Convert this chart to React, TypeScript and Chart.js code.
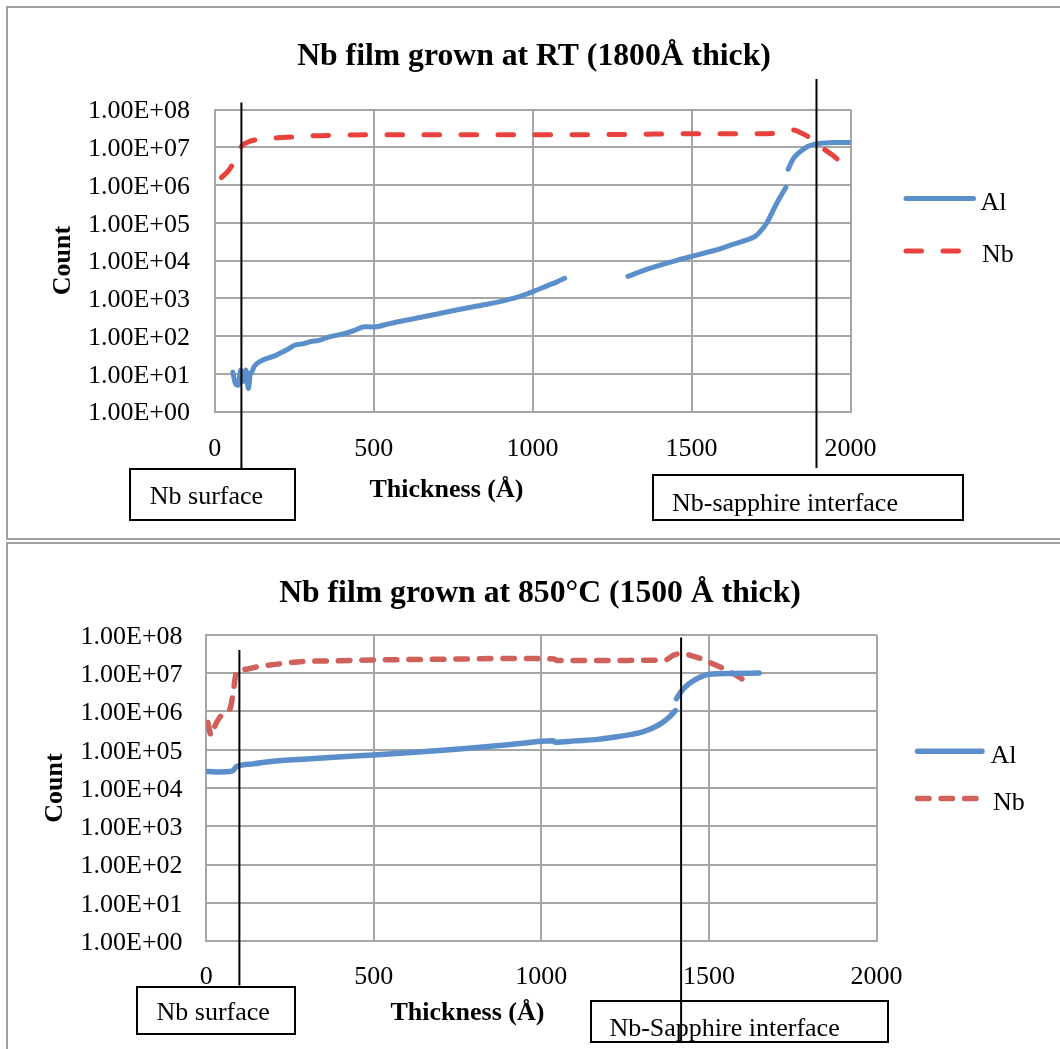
import React, { useEffect, useRef } from 'react';
import { Chart, registerables } from 'chart.js';

Chart.register(...registerables);

const FONT = "'Liberation Serif', 'Times New Roman', serif";
const BLUE = 'rgb(91,143,204)';
const RED_RT = 'rgb(233,66,62)';
const RED_HT = 'rgb(208,96,90)';
const GRID = 'rgb(166,166,166)';

// shared axes
const xTicks = [0, 500, 1000, 1500, 2000];
const xTickLabels = ['0', '500', '1000', '1500', '2000'];
const yTicks = [1, 10, 100, 1e3, 1e4, 1e5, 1e6, 1e7, 1e8];
const yTickLabels = ['1.00E+00', '1.00E+01', '1.00E+02', '1.00E+03', '1.00E+04', '1.00E+05', '1.00E+06', '1.00E+07', '1.00E+08'];
const seriesNames = ['Al', 'Nb'];

// Chart 1: film grown at RT
const rtTitle = 'Nb film grown at RT (1800Å thick)';
const rtAlThickness = [57, 65, 74, 82, 90, 98, 106, 112, 116, 125, 142, 160, 180, 205, 230, 253, 280, 300, 331, 360, 410, 440, 472, 500, 550, 600, 650, 707, 760, 810, 860, 920, 960, 992, 1020, 1045, 1075, 1101,
  1200,
  1300, 1350, 1417, 1460, 1500, 1550, 1590, 1630, 1672, 1700, 1715, 1736, 1768, 1797, 1800, 1804, 1820, 1843, 1865, 1885, 1910, 1949, 2000];
const rtAlCount = [11, 5.6, 5, 12.6, 6.3, 12.6, 4.1, 10, 11, 16, 21, 25, 28, 35, 45, 58, 63, 71, 78, 95, 117, 141, 178, 174, 214, 263, 316, 398, 490, 589, 708, 912, 1120, 1410, 1740, 2140, 2690, 3390,
  null,
  3800, 5500, 8300, 10500, 12900, 16600, 20400, 26900, 34700, 43600, 57500, 97700, 331000, 871000, null, 2630000, 5010000, 7760000, 10500000, 12000000, 12900000, 13500000, 13500000];
const rtNbThickness = [21, 40, 58, 84, 112, 150, 197, 300, 388, 500, 700, 900, 1100, 1300, 1500, 1650, 1760, 1800, 1820, 1840, 1867, 1890, 1914, 1940, 1962];
const rtNbCount = [1580000, 2240000, 3720000, 10500000, 14500000, 16600000, 17800000, 20000000, 20900000, 21400000, 21400000, 21400000, 21400000, 21900000, 22900000, 22900000, 23400000, 27500000, 28800000, 25100000, 19100000, 13500000, 9300000, 6500000, 4600000];
const rtSurfaceAt = 84;
const rtInterfaceAt = 1893;

// Chart 2: film grown at 850°C
const htTitle = 'Nb film grown at 850°C (1500 Å thick)';
const htAlThickness = [5, 40, 71, 80, 91, 140, 192, 300, 393, 498, 600, 696, 800, 900, 966, 1001, 1035, 1042, 1100, 1168, 1220, 1269, 1300, 1329, 1360, 1385, 1400, 1401, 1403, 1420, 1440, 1470, 1501, 1571, 1650];
const htAlCount = [26900, 26300, 26900, 28800, 36300, 42700, 49000, 57500, 64600, 72400, 83200, 95500, 112000, 135000, 155000, 166000, 170000, 157000, 170000, 186000, 214000, 251000, 288000, 355000, 501000, 759000, 1050000, null, 2140000, 3550000, 5250000, 7590000, 9330000, 9770000, 10000000];
const htNbThickness = [5, 15, 25, 40, 55, 71, 79, 91, 120, 151, 200, 293, 400, 495, 700, 898, 1037, 1047, 1200, 1370, 1395, 1420, 1450, 1475, 1501, 1540, 1571, 1600, 1622];
const htNbCount = [513000, 234000, 398000, 692000, 933000, 1150000, 2570000, 10700000, 12600000, 14500000, 16600000, 20000000, 20900000, 21900000, 22900000, 24000000, 23400000, 21400000, 21400000, 21900000, 29500000, 32400000, 28200000, 24000000, 19100000, 13500000, 9800000, 6900000, 5000000];
const htSurfaceAt = 99;
const htInterfaceAt = 1417;

type Spec = {
  w: number; h: number;
  title: string; titlePadTop: number; titlePadBottom: number; layoutLeft: number;
  yWidth: number; yTickPad: number; yTitlePad: number;
  xHeight: number; xTickPad: number; rightWidth: number;
  al: [number[], (number | null)[]]; nb: [number[], (number | null)[]];
  nbColor: string; nbDash: number[]; alWidth: number; nbWidth: number;
  vlines: { at: number; y0: number; y1: number }[];
  legend: { x0: number; x1: number; y: number; tx: number; ty: number }[];
};

const toPoints = (xs: number[], ys: (number | null)[]) => xs.map((x, i) => ({ x, y: ys[i] }));

function overlay(spec: Spec) {
  return {
    id: 'overlay',
    afterDraw(chart: any) {
      const ctx = chart.ctx as CanvasRenderingContext2D;
      const xs = chart.scales.x;
      ctx.save();
      ctx.setLineDash([]);
      ctx.lineCap = 'butt';
      ctx.strokeStyle = '#000';
      ctx.lineWidth = 2;
      spec.vlines.forEach((v) => {
        const px = xs.getPixelForValue(v.at);
        ctx.beginPath();
        ctx.moveTo(px, v.y0);
        ctx.lineTo(px, v.y1);
        ctx.stroke();
      });
      spec.legend.forEach((it, i) => {
        const ds = chart.data.datasets[i];
        ctx.beginPath();
        ctx.setLineDash(ds.borderDash || []);
        ctx.lineCap = 'round';
        ctx.strokeStyle = ds.borderColor;
        ctx.lineWidth = ds.borderWidth;
        ctx.moveTo(it.x0, it.y);
        ctx.lineTo(it.x1, it.y);
        ctx.stroke();
        ctx.setLineDash([]);
        ctx.fillStyle = '#000';
        ctx.font = `26px ${FONT}`;
        ctx.textBaseline = 'middle';
        ctx.textAlign = 'left';
        ctx.fillText(ds.label, it.tx, it.ty);
      });
      ctx.restore();
    },
  };
}

function makeConfig(spec: Spec): any {
  const tickFont = { family: FONT, size: 26 };
  const boldFont = { family: FONT, size: 26, weight: 'bold' };
  return {
    type: 'line',
    data: {
      datasets: [
        {
          label: seriesNames[0], data: toPoints(spec.al[0], spec.al[1]), borderColor: BLUE, backgroundColor: BLUE,
          borderWidth: spec.alWidth, pointRadius: 0, fill: false, cubicInterpolationMode: 'monotone',
          borderCapStyle: 'round', borderJoinStyle: 'round', spanGaps: false,
        },
        {
          label: seriesNames[1], data: toPoints(spec.nb[0], spec.nb[1]), borderColor: spec.nbColor, backgroundColor: spec.nbColor,
          borderWidth: spec.nbWidth, borderDash: spec.nbDash, pointRadius: 0, fill: false, cubicInterpolationMode: 'monotone',
          borderCapStyle: 'round', borderJoinStyle: 'round', spanGaps: false,
        },
      ],
    },
    options: {
      animation: false,
      responsive: false,
      devicePixelRatio: 1,
      layout: { padding: { left: spec.layoutLeft, right: 0, top: 0, bottom: 0 } },
      plugins: {
        legend: { display: false },
        tooltip: { enabled: false },
        title: {
          display: true, text: spec.title, color: '#000',
          font: { family: FONT, size: 31.7, weight: 'bold', lineHeight: 1.2 },
          padding: { top: spec.titlePadTop, bottom: spec.titlePadBottom },
        },
      },
      scales: {
        x: {
          type: 'linear', min: 0, max: 2000,
          afterBuildTicks: (s: any) => { s.ticks = xTicks.map((v) => ({ value: v })); },
          afterFit: (s: any) => { s.height = spec.xHeight; },
          ticks: {
            font: tickFont, color: '#000', padding: spec.xTickPad, maxRotation: 0, autoSkip: false,
            callback: (v: number) => xTickLabels[xTicks.indexOf(v)],
          },
          grid: { color: GRID, lineWidth: 2, drawTicks: false },
          border: { color: GRID, width: 2 },
          title: { display: false },
        },
        y: {
          type: 'logarithmic', min: 1, max: 1e8, position: 'left',
          afterBuildTicks: (s: any) => { s.ticks = yTicks.map((v) => ({ value: v })); },
          afterFit: (s: any) => { s.width = spec.yWidth; },
          ticks: {
            font: tickFont, color: '#000', padding: spec.yTickPad, autoSkip: false, labelOffset: 2,
            callback: (v: number) => yTickLabels[yTicks.indexOf(v)],
          },
          grid: { color: GRID, lineWidth: 2, drawTicks: false },
          border: { color: GRID, width: 2 },
          title: { display: true, text: 'Count', color: '#000', font: boldFont, padding: { top: spec.yTitlePad, bottom: 0 } },
        },
        yr: {
          type: 'linear', position: 'right', display: true, min: 0, max: 1,
          afterFit: (s: any) => { s.width = spec.rightWidth; },
          ticks: { display: false },
          grid: { display: false, drawTicks: false },
          border: { display: false },
        },
      },
    },
    plugins: [overlay(spec)],
  };
}

function Panel({ spec, left, top }: { spec: Spec; left: number; top: number }) {
  const ref = useRef<HTMLCanvasElement>(null);
  useEffect(() => {
    if (!ref.current) return;
    const chart = new Chart(ref.current, makeConfig(spec));
    return () => chart.destroy();
  }, [spec]);
  return (
    <canvas
      ref={ref}
      width={spec.w}
      height={spec.h}
      style={{ position: 'absolute', left, top, width: spec.w, height: spec.h }}
    />
  );
}

const rtSpec: Spec = {
  w: 1052, h: 530,
  title: rtTitle, titlePadTop: 30, titlePadBottom: 33.5, layoutLeft: 0,
  yWidth: 206.7, yTickPad: 24.7, yTitlePad: 39.4,
  xHeight: 126.4, xTickPad: 21.5, rightWidth: 209.5,
  al: [rtAlThickness, rtAlCount], nb: [rtNbThickness, rtNbCount],
  nbColor: RED_RT, nbDash: [15.5, 21.5], alWidth: 5, nbWidth: 5,
  vlines: [
    { at: rtSurfaceAt, y0: 94.6, y1: 460.3 },
    { at: rtInterfaceAt, y0: 71, y1: 460 },
  ],
  legend: [
    { x0: 898, x1: 965.5, y: 190.5, tx: 972.5, ty: 195 },
    { x0: 898, x1: 951, y: 243, tx: 974, ty: 247 },
  ],
};

const htSpec: Spec = {
  w: 1052, h: 505,
  title: htTitle, titlePadTop: 30.7, titlePadBottom: 22, layoutLeft: 12,
  yWidth: 186.2, yTickPad: 23.6, yTitlePad: 19.4,
  xHeight: 107.7, xTickPad: 20, rightWidth: 183.5,
  al: [htAlThickness, htAlCount], nb: [htNbThickness, htNbCount],
  nbColor: RED_HT, nbDash: [11.5, 12], alWidth: 5.5, nbWidth: 5.5,
  vlines: [
    { at: htSurfaceAt, y0: 106, y1: 441.6 },
    { at: htInterfaceAt, y0: 93.4, y1: 498 },
  ],
  legend: [
    { x0: 909.5, x1: 974, y: 207.3, tx: 982.5, ty: 212 },
    { x0: 909.5, x1: 968, y: 254.6, tx: 985, ty: 259 },
  ],
};

const textStyle: React.CSSProperties = {
  position: 'absolute', fontFamily: FONT, fontSize: 26, lineHeight: '26px', color: '#000', whiteSpace: 'nowrap',
};

function Box({ l, t, w, h }: { l: number; t: number; w: number; h: number }) {
  return <div style={{ position: 'absolute', left: l, top: t, width: w, height: h, border: '2px solid #000', boxSizing: 'border-box' }} />;
}

export default function App() {
  return (
    <div style={{ position: 'absolute', left: 0, top: 0, width: 1060, height: 1049, overflow: 'hidden', background: '#fff' }}>
      <div style={{ position: 'absolute', left: 6, top: 6, width: 1100, height: 530, border: '2px solid #a0a0a0' }} />
      <div style={{ position: 'absolute', left: 6, top: 542, width: 1100, height: 600, border: '2px solid #a0a0a0' }} />
      <Panel spec={rtSpec} left={8} top={8} />
      <Panel spec={htSpec} left={8} top={544} />

      <div style={{ ...textStyle, left: 369.5, top: 476, fontWeight: 'bold' }}>Thickness (Å)</div>
      <div style={{ ...textStyle, left: 390.5, top: 998.6, fontWeight: 'bold' }}>Thickness (Å)</div>

      <Box l={128.8} t={468.3} w={167.3} h={52.4} />
      <div style={{ ...textStyle, left: 149.8, top: 482.9 }}>Nb surface</div>
      <Box l={651.7} t={473.8} w={312.7} h={46.9} />
      <div style={{ ...textStyle, left: 672, top: 489.7 }}>Nb-sapphire interface</div>

      <Box l={136.2} t={985.6} w={159.9} h={49.7} />
      <div style={{ ...textStyle, left: 156.5, top: 998.6 }}>Nb surface</div>
      <Box l={589.5} t={999.8} w={299.9} h={42.9} />
      <div style={{ ...textStyle, left: 609.4, top: 1014.5 }}>Nb-Sapphire interface</div>
    </div>
  );
}
